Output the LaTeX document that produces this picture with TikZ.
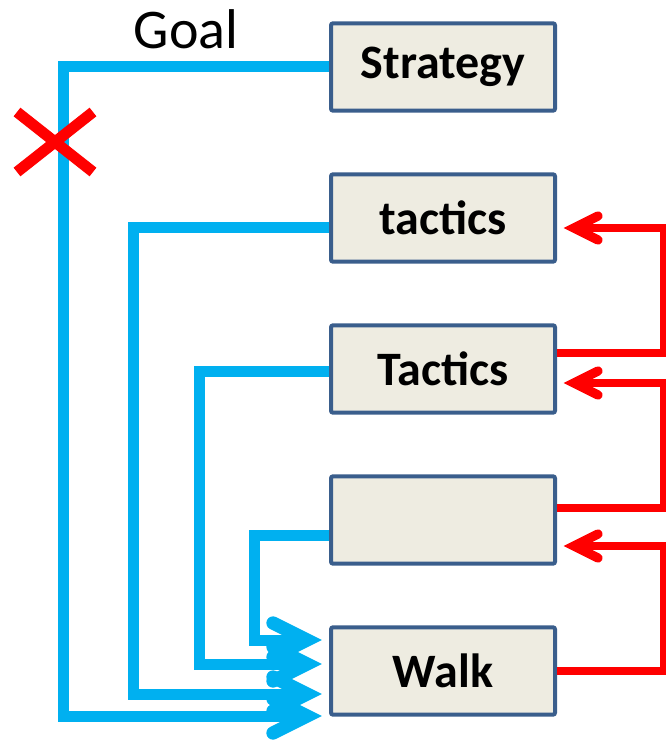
\documentclass[tikz,border=0pt]{standalone}
\usepackage{fontspec}
\setmainfont{Carlito}
\usetikzlibrary{calc}

\definecolor{boxfill}{RGB}{238,236,225}
\definecolor{boxline}{RGB}{58,94,140}
\definecolor{goalblue}{RGB}{0,176,240}
\definecolor{backred}{RGB}{255,0,0}

\tikzset{every picture/.style={line width=0.75pt}}
\tikzset{
  levelbox/.style={draw=boxline, fill=boxfill, line width=3pt, rounded corners=1.5pt,
    minimum width=168pt, minimum height=65.5pt, inner sep=0pt,
    font=\fontsize{36}{36}\selectfont\bfseries},
  goalline/.style={draw=goalblue, line width=8.25pt, shorten >=16.5pt},
  goaltip/.style={draw=goalblue, line width=10pt, line cap=round, line join=miter},
  feedback/.style={draw=backred, line width=5.75pt, shorten >=12.75pt},
  feedtip/.style={draw=backred, line width=7pt, line cap=round, line join=miter},
  crossmark/.style={draw=backred, line width=8.25pt},
  goaltext/.style={inner sep=0pt, anchor=base, font=\fontsize{42}{42}\selectfont}
}

\begin{document}
\begin{tikzpicture}[x=0.75pt,y=0.75pt,yscale=-1,xscale=1]
\useasboundingbox (0,0) rectangle (665,741); %set diagram size 665 x 741

% Boxes
\node[levelbox] (strategy) at (443,67) {Strategy};
\node[levelbox] (tacticsA) at (443,218) {tactics};
\node[levelbox] (tacticsB) at (443,369) {Tactics};
\node[levelbox] (level) at (443,520) {};
\node[levelbox] (walk) at (443,671) {Walk};

% Text Node
\node[goaltext] (goal) at (186,49) {Goal};

% corners of the blue lines
\coordinate (trunkA) at (63,716);
\coordinate (trunkB) at (133,694);
\coordinate (trunkC) at (199,664);
\coordinate (trunkD) at (254,640);

%Straight Lines down to Walk
\draw[goalline] (strategy.west) -| (trunkA) -- (trunkA -| walk.west);
\draw[goaltip] ($(trunkA -| walk.west)+(-56,-17)$) -- ++(34,17) -- ++(-34,17);
\draw[goalline] ($(tacticsA.west)+(0,10)$) -| (trunkB) -- (trunkB -| walk.west);
\draw[goaltip] ($(trunkB -| walk.west)+(-56,-17)$) -- ++(34,17) -- ++(-34,17);
\draw[goalline] ($(tacticsB.west)+(0,2)$) -| (trunkC) -- (trunkC -| walk.west);
\draw[goaltip] ($(trunkC -| walk.west)+(-56,-17)$) -- ++(34,17) -- ++(-34,17);
\draw[goalline] ($(level.west)+(0,15)$) -| (trunkD) -- (trunkD -| walk.west);
\draw[goaltip] ($(trunkD -| walk.west)+(-56,-17)$) -- ++(34,17) -- ++(-34,17);

%Straight Lines back up
\draw[feedback] ($(tacticsB.east)+(0,-16)$) -- ++(107,0) |- ($(tacticsA.east)+(0,10)$);
\draw[feedtip] ($(tacticsA.east)+(41,-2)$) -- ++(-24,12) -- ++(24,12);
\draw[feedback] ($(level.east)+(0,-12)$) -- ++(107,0) |- ($(tacticsB.east)+(0,14)$);
\draw[feedtip] ($(tacticsB.east)+(41,2)$) -- ++(-24,12) -- ++(24,12);
\draw[feedback] (walk.east) -- ++(107,0) |- ($(level.east)+(0,26)$);
\draw[feedtip] ($(level.east)+(41,14)$) -- ++(-24,12) -- ++(24,12);

% Cross
\coordinate (cut) at (55,142);
\draw[crossmark] ($(cut)+(-38,-30)$) -- ($(cut)+(38,30)$);
\draw[crossmark] ($(cut)+(-38,30)$) -- ($(cut)+(38,-30)$);

\end{tikzpicture}
\end{document}
